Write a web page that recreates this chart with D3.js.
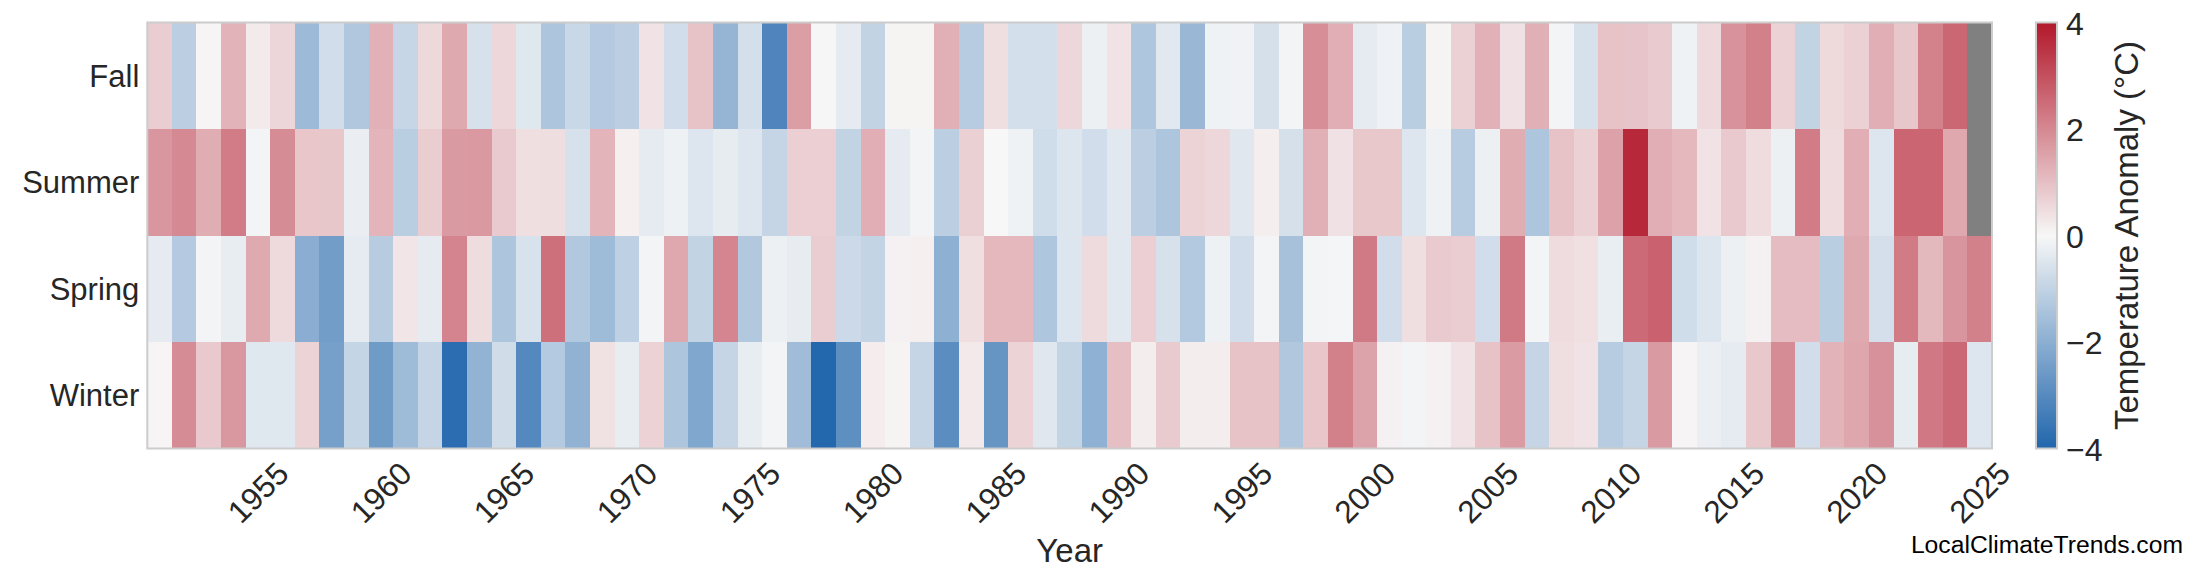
<!DOCTYPE html>
<html>
<head>
<meta charset="utf-8">
<script src="https://cdn.jsdelivr.net/npm/d3@7/dist/d3.min.js"></script>
<style>
  html, body { margin: 0; padding: 0; background: #ffffff; }
  svg { display: block; }
  text { font-family: "Liberation Sans", Arial, Helvetica, sans-serif; }
</style>
</head>
<body>
<svg id="chart" width="2200" height="585"></svg>
<script>
// ---------------- DATA ----------------
const years = d3.range(1951, 2026);                 // 1951 ... 2025
const seasons = ["Fall", "Summer", "Spring", "Winter"];
const xTickYears = [1955, 1960, 1965, 1970, 1975, 1980, 1985, 1990, 1995, 2000, 2005, 2010, 2015, 2020, 2025];
const colorbarTicks = [-4, -2, 0, 2, 4];

const fall = [
  0.75, -1.10, 0.05, 1.20, 0.23, 0.59, -1.68, -0.71, -1.33, 1.26,
  -0.92, 0.56, 1.40, -0.60, 0.57, -0.45, -1.38, -0.86, -1.23, -1.10,
  0.36, -0.71, 0.93, -1.81, -0.67, -3.14, 1.60, 0.02, -0.34, -0.99,
  0.08, 0.08, 1.27, -1.20, 0.43, -0.67, -0.67, 0.57, -0.20, 0.36,
  -1.36, -0.41, -1.74, -0.15, -0.13, -0.64, -0.07, 1.88, 1.31, -0.32,
  -0.15, -1.14, 0.07, 0.68, 1.26, 0.38, 1.27, -0.08, -0.60, 0.93,
  0.91, 0.79, -0.15, 0.52, 1.81, 2.12, 0.66, -0.99, 0.54, 0.68,
  1.31, 0.86, 2.10, 2.58, null
];
const summer = [
  1.74, 1.96, 1.33, 2.21, -0.08, 1.92, 0.88, 0.86, -0.24, 1.18,
  -1.14, 0.75, 1.67, 1.70, 0.79, 0.43, 0.45, -0.62, 1.18, 0.14,
  -0.34, -0.17, -0.49, -0.30, -0.49, -0.93, 0.72, 0.72, -0.99, 1.31,
  -0.32, -0.07, -1.10, 0.70, 0.00, -0.15, -0.75, -0.49, -0.71, -0.41,
  -1.10, -1.38, 0.65, 0.57, -0.43, 0.16, -0.64, 1.27, 0.38, 0.84,
  0.84, -0.49, -0.15, -1.18, -0.20, 1.33, -1.38, 0.93, 0.68, 1.52,
  3.71, 1.31, 1.13, 0.36, 0.82, 0.48, -0.20, 2.21, 0.48, 1.31,
  -0.49, 2.62, 2.62, 1.42, null
];
const spring = [
  -0.32, -1.23, -0.07, -0.28, 1.40, 0.52, -2.04, -2.49, -0.32, -1.18,
  0.32, -0.32, 2.06, 0.48, -1.38, -0.58, 2.42, -1.29, -1.66, -1.07,
  -0.07, 1.42, -0.99, 2.04, -1.31, -0.20, -0.30, 0.75, -0.82, -0.97,
  0.12, 0.14, -1.96, 0.43, 1.13, 1.13, -1.36, -0.49, 0.50, -0.41,
  0.72, -0.60, -1.27, -0.17, -0.71, -0.07, -1.50, -0.07, -0.05, 2.24,
  -0.71, 0.43, 0.79, 0.75, -0.71, 2.24, -0.07, 0.48, 0.41, -0.26,
  2.51, 2.69, -0.75, -0.49, -0.20, 0.10, 1.06, 1.06, -1.14, 1.40,
  -0.66, 2.22, 1.11, 1.76, 2.12
];
const winter = [
  0.05, 1.92, 0.82, 1.72, -0.45, -0.45, 0.65, -2.41, -0.95, -2.54,
  -1.66, -0.93, -3.81, -1.87, -0.73, -3.05, -1.25, -1.89, 0.40, -0.28,
  0.66, -1.38, -2.22, -0.93, -0.28, -0.07, -1.63, -3.96, -2.86, 0.20,
  0.08, -0.93, -2.92, 0.25, -2.71, 0.65, -0.43, -0.97, -1.94, 1.00,
  0.18, 0.79, 0.18, 0.18, 0.93, 0.93, -1.33, 0.88, 2.12, 1.51,
  0.12, -0.07, 0.10, 0.36, 0.93, 1.65, -0.93, 0.43, 0.36, -1.20,
  -0.93, 1.67, 0.05, -0.22, -0.32, 0.84, 1.92, -0.71, 1.20, 1.43,
  1.83, -0.30, 2.26, 2.53, -0.49
];
const seriesBySeason = { Fall: fall, Summer: summer, Spring: spring, Winter: winter };

// ---------------- LAYOUT ----------------
const svg = d3.select("#chart");
const plot = { left: 147.3, right: 1992, top: 22.5, bottom: 448.5 };
const cbar = { left: 2036, right: 2057 };
const tickColor = "#262626";
const spineColor = "#cccccc";

const x = d3.scaleBand().domain(years).range([plot.left, plot.right]).padding(0);
const y = d3.scaleBand().domain(seasons).range([plot.top, plot.bottom]).padding(0);
const color = d3.scaleLinear()
  .domain([-4, 0, 4])
  .range(["#2166ac", "#f7f7f7", "#b2182b"])
  .interpolate(d3.interpolateRgb)
  .clamp(true);

// cells
const cells = [];
seasons.forEach(s => {
  seriesBySeason[s].forEach((v, i) => cells.push({ season: s, year: years[i], value: v }));
});

svg.append("g").selectAll("rect")
  .data(cells)
  .join("rect")
  .attr("x", d => x(d.year))
  .attr("y", d => y(d.season))
  .attr("width", x.bandwidth() + 0.5)
  .attr("height", y.bandwidth() + 0.5)
  .attr("fill", d => d.value === null ? "#808080" : color(d.value))
  .attr("shape-rendering", "crispEdges");

// frame
svg.append("rect")
  .attr("x", plot.left).attr("y", plot.top)
  .attr("width", plot.right - plot.left).attr("height", plot.bottom - plot.top)
  .attr("fill", "none").attr("stroke", spineColor).attr("stroke-width", 2);

// x axis (tick labels only, rotated 45°)
const xAxis = d3.axisBottom(x).tickValues(xTickYears).tickSize(0).tickPadding(0);
const gx = svg.append("g").attr("transform", `translate(0,${plot.bottom})`).call(xAxis);
gx.select(".domain").remove();
gx.selectAll(".tick text")
  .attr("fill", tickColor)
  .attr("font-size", "31.5px")
  .attr("text-anchor", "middle")
  .attr("dy", null)
  .attr("y", 0)
  .attr("dominant-baseline", "central")
  .attr("transform", "translate(0,44) rotate(-45)");

// y axis labels
const yAxis = d3.axisLeft(y).tickSize(0).tickPadding(0);
const gy = svg.append("g").attr("transform", `translate(${plot.left - 8},0)`).call(yAxis);
gy.select(".domain").remove();
gy.selectAll(".tick text")
  .attr("fill", tickColor)
  .attr("font-size", "31px")
  .attr("dy", "0.36em")
  .attr("text-anchor", "end");

// x axis title
svg.append("text")
  .attr("x", (plot.left + plot.right) / 2)
  .attr("y", 562)
  .attr("text-anchor", "middle")
  .attr("fill", tickColor)
  .attr("font-size", "33px")
  .text("Year");

// ---------------- COLORBAR ----------------
const defs = svg.append("defs");
const grad = defs.append("linearGradient")
  .attr("id", "cbgrad").attr("x1", "0").attr("y1", "1").attr("x2", "0").attr("y2", "0");
d3.range(0, 1.0001, 0.05).forEach(t => {
  grad.append("stop").attr("offset", t).attr("stop-color", color(-4 + 8 * t));
});
const cy = d3.scaleLinear().domain([-4, 4]).range([plot.bottom, plot.top]);
svg.append("rect")
  .attr("x", cbar.left).attr("y", plot.top)
  .attr("width", cbar.right - cbar.left).attr("height", plot.bottom - plot.top)
  .attr("fill", "url(#cbgrad)")
  .attr("stroke", spineColor).attr("stroke-width", 2);

const cAxis = d3.axisRight(cy).tickValues(colorbarTicks).tickSize(0).tickPadding(0)
  .tickFormat(d => d < 0 ? "\u2212" + Math.abs(d) : String(d));
const gc = svg.append("g").attr("transform", `translate(${cbar.right + 9},0)`).call(cAxis);
gc.select(".domain").remove();
gc.selectAll(".tick text")
  .attr("fill", tickColor)
  .attr("font-size", "32px")
  .attr("dy", "0.36em")
  .attr("text-anchor", "start");

svg.append("text")
  .attr("transform", `translate(2126,${(plot.top + plot.bottom) / 2}) rotate(-90)`)
  .attr("text-anchor", "middle")
  .attr("dominant-baseline", "central")
  .attr("fill", tickColor)
  .attr("font-size", "33px")
  .text("Temperature Anomaly (\u00B0C)");

// watermark
svg.append("text")
  .attr("x", 2183)
  .attr("y", 553)
  .attr("text-anchor", "end")
  .attr("fill", "#000000")
  .attr("font-size", "24.7px")
  .text("LocalClimateTrends.com");
</script>
</body>
</html>
